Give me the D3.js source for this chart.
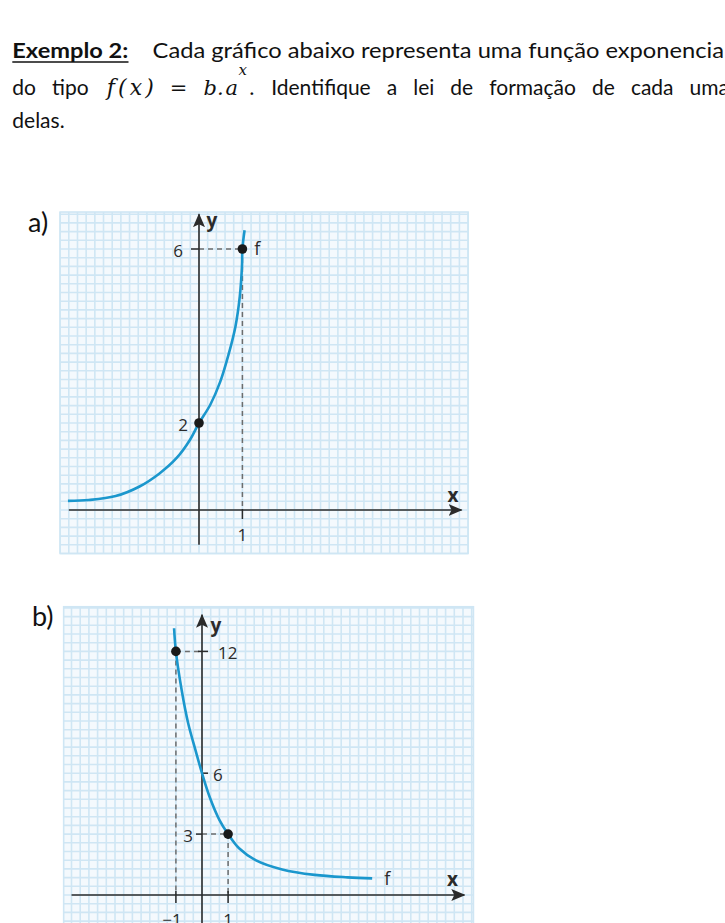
<!DOCTYPE html>
<html><head><meta charset="utf-8">
<script src="https://cdn.jsdelivr.net/npm/d3@7"></script>
<style>body{margin:0;background:#fff}svg{display:block}</style>
</head><body>
<svg id="c" width="725" height="923"></svg>
<script>
// ---- data ----
const curveA_x = [-3.02,-2.54,-1.92,-1.37,-0.91,-0.52,-0.21,0,0.26,0.49,0.68,0.84,0.94,0.99,1,1.05];
const curveA_y = [0.21,0.23,0.32,0.54,0.84,1.19,1.61,2,2.42,2.95,3.57,4.22,4.91,5.6,6,6.43];
const pointsA = [{x:0,y:2},{x:1,y:6}];
const yTicksA = [6,2];
const xTicksA = [1];

const curveB_x = [-1.07,-1,-0.78,-0.53,-0.25,0,0.29,0.67,1,1.42,2.05,3.07,4.32,5.58,6.52];
const curveB_y = [13.14,12,10.1,8.46,7.14,6,4.84,3.69,3,2.30,1.72,1.26,0.99,0.87,0.82];
const pointsB = [{x:-1,y:12},{x:1,y:3}];
const yTicksB = [12,6,3];
const xTicksB = [-1,1];

const svg = d3.select("#c");
const blue = "#1b97cd", axisCol = "#2b2b2b", dashCol = "#6d6d6d";
const gridBg = "#f4f9fd", gridLine = "#cfe6f4";
const lblFont = "'Open Sans', Lato, sans-serif";

// ---- header text ----
const T = svg.append("g").attr("font-family","Lato, Carlito, sans-serif").attr("font-size",21).attr("fill","#111");
T.append("text").attr("x",12.3).attr("y",58).attr("font-weight","bold").attr("textLength",116).attr("lengthAdjust","spacingAndGlyphs").text("Exemplo 2:");
T.append("line").attr("x1",12.3).attr("x2",128.5).attr("y1",62).attr("y2",62).attr("stroke","#111").attr("stroke-width",1.6);
T.append("text").attr("x",152.6).attr("y",58).attr("textLength",577).attr("lengthAdjust","spacingAndGlyphs").text("Cada gráfico abaixo representa uma função exponencial");

// line 2, justified between 12.3 and 729
const base2 = 95;
const mathFont = "'DejaVu Serif', 'Liberation Serif', serif";
function wordItem(s){ return g => g.append("text").attr("y",base2).text(s); }
const items = [];
["do","tipo"].forEach(s=>items.push(wordItem(s)));
items.push(g => g.append("text").attr("y",base2).attr("font-family",mathFont).attr("font-style","italic").attr("font-size",22)
  .attr("textLength",47).attr("lengthAdjust","spacing").text("f(x)"));
items.push(g => g.append("text").attr("y",base2).attr("font-family",mathFont).attr("font-size",21).text("="));
items.push(g => {
  const h = g.append("g").attr("font-family",mathFont).attr("font-size",21);
  h.append("text").attr("x",0).attr("y",base2).attr("font-style","italic").text("b.");
  h.append("text").attr("x",22).attr("y",base2).attr("font-style","italic").text("a");
  h.append("text").attr("x",35).attr("y",base2-20).attr("font-style","italic").attr("font-size",15).text("x");
  h.append("text").attr("x",45).attr("y",base2).text(".");
  return h;
});
["Identifique","a","lei","de","formação","de","cada","uma"].forEach(s=>items.push(wordItem(s)));
const L2 = T.append("g");
const nodes = items.map(f => { const gg = L2.append("g"); f(gg); return gg; });
const widths = nodes.map(n => n.node().getBBox().width);
const left = 12.3, right = 729;
const gap = (right-left - d3.sum(widths)) / (nodes.length-1);
let cx = left;
nodes.forEach((n,i) => { const bb = n.node().getBBox(); n.attr("transform",`translate(${cx-bb.x},0)`); cx += widths[i] + gap; });

T.append("text").attr("x",12.3).attr("y",128).text("delas.");

// part labels
svg.append("text").attr("x",28).attr("y",232).attr("font-family","Lato, sans-serif").attr("font-size",27).attr("fill","#111").text("a)");
svg.append("text").attr("x",32).attr("y",626).attr("font-family","Lato, sans-serif").attr("font-size",27).attr("fill","#111").text("b)");

// arrow marker
const defs = svg.append("defs");
defs.append("marker").attr("id","arr").attr("viewBox","0 0 14 12").attr("refX",13).attr("refY",6)
  .attr("markerWidth",14).attr("markerHeight",12).attr("markerUnits","userSpaceOnUse").attr("orient","auto")
  .append("path").attr("d","M0,0 L14,6 L0,12 L3,6 Z").attr("fill",axisCol);

function grid(g, x, y, stepX, stepY){
  const [x0,x1] = x.domain(), [y0,y1] = y.domain();
  g.append("rect").attr("x",x(x0)).attr("y",y(y1)).attr("width",x(x1)-x(x0)).attr("height",y(y0)-y(y1)).attr("fill",gridBg);
  const xs=[], ys=[];
  for(let v=0; v>=x0-1e-9; v-=stepX) xs.push(v);
  for(let v=stepX; v<=x1+1e-9; v+=stepX) xs.push(v);
  for(let v=0; v>=y0-1e-9; v-=stepY) ys.push(v);
  for(let v=stepY; v<=y1+1e-9; v+=stepY) ys.push(v);
  g.selectAll(null).data(xs).join("line").attr("x1",d=>x(d)).attr("x2",d=>x(d)).attr("y1",y(y0)).attr("y2",y(y1)).attr("stroke",gridLine).attr("stroke-width",1.6);
  g.selectAll(null).data(ys).join("line").attr("y1",d=>y(d)).attr("y2",d=>y(d)).attr("x1",x(x0)).attr("x2",x(x1)).attr("stroke",gridLine).attr("stroke-width",1.6);
  g.append("rect").attr("x",x(x0)).attr("y",y(y1)).attr("width",x(x1)-x(x0)).attr("height",y(y0)-y(y1)).attr("fill","none").attr("stroke",gridLine).attr("stroke-width",1.6);
}
function dashed(g, pts){
  g.append("path").attr("d",d3.line()(pts)).attr("fill","none").attr("stroke",dashCol).attr("stroke-width",1.5).attr("stroke-dasharray","5,4");
}
function txt(g, x, y, s, opts={}){
  const t = g.append("text").attr("x",x).attr("y",y).attr("font-family",lblFont).attr("font-size",opts.size||17)
    .attr("fill",opts.fill||"#2b2b2b").attr("text-anchor",opts.anchor||"middle").attr("dominant-baseline","central").text(s);
  if(opts.bold) t.attr("font-weight","bold");
  return t;
}

// ---------- Chart A ----------
{
  const ux = 43.4, uy = 43.5, ox = 199, oy = 510;
  const x = d3.scaleLinear().domain([-3.2,6.2]).range([ox-3.2*ux, ox+6.2*ux]);
  const y = d3.scaleLinear().domain([-1,6.85]).range([oy+1*uy, oy-6.85*uy]);
  const g = svg.append("g");
  grid(g, x, y, 0.2, 0.2);
  dashed(g, [[x(0),y(6)],[x(1),y(6)]]);
  dashed(g, [[x(1),y(6)],[x(1),y(0)]]);
  g.append("line").attr("x1",x(-3)).attr("x2",x(6.05)).attr("y1",y(0)).attr("y2",y(0)).attr("stroke",axisCol).attr("stroke-width",1.6).attr("marker-end","url(#arr)");
  g.append("line").attr("x1",x(0)).attr("x2",x(0)).attr("y1",y(-0.8)).attr("y2",y(6.8)).attr("stroke",axisCol).attr("stroke-width",1.6).attr("marker-end","url(#arr)");
  g.selectAll(null).data(yTicksA.filter(d=>d===6)).join("line").attr("x1",x(0)-8).attr("x2",x(0)).attr("y1",d=>y(d)).attr("y2",d=>y(d)).attr("stroke",axisCol).attr("stroke-width",1.5);
  g.selectAll(null).data(xTicksA).join("line").attr("x1",d=>x(d)).attr("x2",d=>x(d)).attr("y1",y(0)-1).attr("y2",y(0)+9).attr("stroke",axisCol).attr("stroke-width",1.5);
  yTicksA.forEach(d=>txt(g, x(0)-(d===6?21:16), y(d)+1, d, {anchor:"middle"}));
  xTicksA.forEach(d=>txt(g, x(d), y(0)+24, d));
  const data = curveA_x.map((v,i)=>({x:v,y:curveA_y[i]}));
  g.append("path").datum(data).attr("d",d3.line().x(d=>x(d.x)).y(d=>y(d.y)).curve(d3.curveCatmullRom.alpha(0.5)))
    .attr("fill","none").attr("stroke",blue).attr("stroke-width",2.6);
  g.selectAll(null).data(pointsA).join("circle").attr("cx",d=>x(d.x)).attr("cy",d=>y(d.y)).attr("r",4.8).attr("fill","#1a1a1a");
  txt(g, x(0)+13, y(6.66), "y", {bold:true, size:19});
  txt(g, x(5.85), y(0.35), "x", {bold:true, size:19});
  txt(g, x(1)+15, y(6.02), "f", {size:18});
}

// ---------- Chart B ----------
{
  const ux = 26.1, uy = 20.3, ox = 202, oy = 895;
  const x = d3.scaleLinear().domain([-5.3,10.4]).range([ox-5.3*ux, ox+10.4*ux]);
  const y = d3.scaleLinear().domain([-1.5,14.2]).range([oy+1.5*uy, oy-14.2*uy]);
  const g = svg.append("g");
  grid(g, x, y, 1/3, 3/7);
  dashed(g, [[x(-1),y(12)],[x(0),y(12)]]);
  dashed(g, [[x(-1),y(12)],[x(-1),y(0)]]);
  dashed(g, [[x(0),y(3)],[x(1),y(3)]]);
  dashed(g, [[x(1),y(3)],[x(1),y(0)]]);
  g.append("line").attr("x1",x(-5)).attr("x2",x(10.05)).attr("y1",y(0)).attr("y2",y(0)).attr("stroke",axisCol).attr("stroke-width",1.6).attr("marker-end","url(#arr)");
  g.append("line").attr("x1",x(0)).attr("x2",x(0)).attr("y1",y(-1.6)).attr("y2",y(13.8)).attr("stroke",axisCol).attr("stroke-width",1.6).attr("marker-end","url(#arr)");
  const tk = {12:[-4,6],6:[0,6],3:[-6,0]};
  g.selectAll(null).data(yTicksB).join("line").attr("x1",d=>x(0)+tk[d][0]).attr("x2",d=>x(0)+tk[d][1]).attr("y1",d=>y(d)).attr("y2",d=>y(d)).attr("stroke",axisCol).attr("stroke-width",1.5);
  txt(g, x(0)+16, y(12)+1, 12, {anchor:"start"});
  txt(g, x(0)+11, y(6)+1, 6, {anchor:"start"});
  txt(g, x(0)-9, y(3)+1, 3, {anchor:"end"});
  g.selectAll(null).data(xTicksB).join("line").attr("x1",d=>x(d)).attr("x2",d=>x(d)).attr("y1",y(0)-4).attr("y2",y(0)+8).attr("stroke",axisCol).attr("stroke-width",1.5);
  xTicksB.forEach(d=>txt(g, x(d)+(d<0?-4:0), y(0)+24, d<0?"\u2212"+Math.abs(d):d));
  const data = curveB_x.map((v,i)=>({x:v,y:curveB_y[i]}));
  g.append("path").datum(data).attr("d",d3.line().x(d=>x(d.x)).y(d=>y(d.y)).curve(d3.curveCatmullRom.alpha(0.5)))
    .attr("fill","none").attr("stroke",blue).attr("stroke-width",2.6);
  g.selectAll(null).data(pointsB).join("circle").attr("cx",d=>x(d.x)).attr("cy",d=>y(d.y)).attr("r",4.8).attr("fill","#1a1a1a");
  txt(g, x(0)+14, y(13.3), "y", {bold:true, size:19});
  txt(g, x(9.6), y(0.8), "x", {bold:true, size:19});
  txt(g, x(7.1), y(0.85), "f", {size:18});
}
</script>
</body></html>
